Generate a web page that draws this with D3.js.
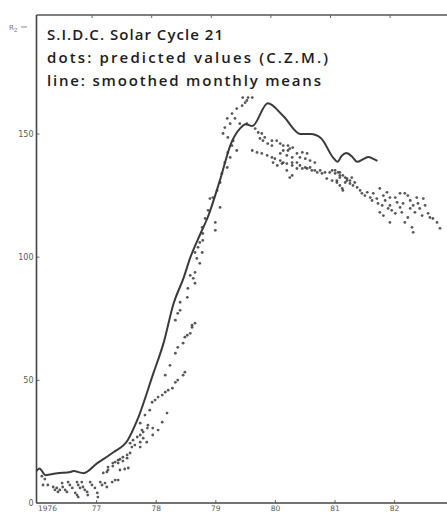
<!DOCTYPE html>
<html>
<head>
<meta charset="utf-8">
<script src="https://cdn.jsdelivr.net/npm/d3@7/dist/d3.min.js"></script>
<style>
  html, body { margin: 0; padding: 0; background: #fff; }
  svg { display: block; }
  .tick text { font-family: "DejaVu Sans", sans-serif; fill: #5a5a5a; }
</style>
</head>
<body>
<svg id="chart" width="447" height="514"></svg>
<script>
// Title block
const titleLines = [
  "S.I.D.C. Solar Cycle 21",
  "dots: predicted values (C.Z.M.)",
  "line: smoothed monthly means"
];

// Axis ticks
const yearTicks = [1976, 1977, 1978, 1979, 1980, 1981, 1982];
const yearLabels = ["1976", "77", "78", "79", "80", "81", "82"];
const valueTicks = [0, 50, 100, 150];

// Smoothed monthly sunspot number [decimal year, Rz]
const smoothed = [
  [1976.00, 13.0], [1976.05, 14.0], [1976.15, 11.3], [1976.35, 12.1], [1976.57, 12.6],
  [1976.62, 13.0], [1976.79, 12.1], [1977.02, 16.2], [1977.29, 20.6], [1977.53, 25.5],
  [1977.69, 33.6], [1977.96, 52.6], [1978.13, 64.8], [1978.30, 81.0], [1978.47, 91.5],
  [1978.58, 99.6], [1978.75, 109.3], [1978.87, 115.8], [1979.09, 132.0], [1979.26, 145.7],
  [1979.42, 152.2], [1979.51, 153.8], [1979.62, 153.0], [1979.88, 162.3], [1980.14, 157.1],
  [1980.43, 149.8], [1980.60, 149.8], [1980.77, 148.2], [1980.98, 140.1], [1981.05, 138.5],
  [1981.12, 140.9], [1981.20, 142.1], [1981.30, 140.5], [1981.38, 138.5], [1981.49, 139.7],
  [1981.57, 140.5], [1981.65, 139.7], [1981.72, 138.9]
];

// Predicted values around the minimum
const dotsMinimum = [
  [1976.09, 10.9], [1976.14, 9.7], [1976.11, 7.3], [1976.19, 7.3], [1976.28, 6.5],
  [1976.31, 5.3], [1976.34, 6.1], [1976.36, 4.5], [1976.39, 5.3], [1976.43, 8.1],
  [1976.44, 6.5], [1976.48, 5.3], [1976.51, 4.5], [1976.53, 8.5], [1976.56, 7.3],
  [1976.60, 6.1], [1976.65, 4.1], [1976.68, 8.5], [1976.70, 7.3], [1976.73, 6.1],
  [1976.68, 3.2], [1976.70, 2.4], [1976.76, 8.5], [1976.78, 6.5], [1976.81, 5.3],
  [1976.85, 4.5], [1976.86, 3.2], [1976.90, 8.5], [1976.93, 7.3], [1976.98, 6.1],
  [1977.02, 4.1], [1977.03, 2.4], [1977.07, 8.5], [1977.10, 7.3], [1977.15, 8.1],
  [1977.18, 6.5], [1977.27, 8.5], [1977.32, 9.3], [1977.37, 9.3],
  [1977.12, 12.2], [1977.18, 12.6], [1977.20, 14.6], [1977.20, 13.4], [1977.28, 16.2],
  [1977.28, 15.0], [1977.32, 16.6], [1977.37, 17.4], [1977.37, 16.2], [1977.40, 17.8],
  [1977.45, 18.6], [1977.45, 17.0], [1977.52, 19.5], [1977.52, 18.2], [1977.57, 20.3],
  [1977.40, 13.4], [1977.48, 13.8], [1977.54, 14.2]
];

// Predicted values on the rising branch
const dotsRise = [
  [1977.60, 22.7], [1977.57, 24.3], [1977.62, 25.5], [1977.65, 23.5], [1977.69, 26.8],
  [1977.74, 27.6], [1977.74, 24.7], [1977.79, 28.8], [1977.79, 26.3], [1977.86, 30.4],
  [1977.87, 31.6], [1977.74, 22.7], [1977.85, 24.7], [1977.95, 27.6], [1978.04, 29.6],
  [1978.11, 32.8], [1978.19, 36.5], [1977.77, 29.6], [1977.95, 30.4],
  [1977.74, 32.4], [1977.82, 35.7], [1977.90, 37.7], [1977.94, 40.9], [1977.99, 41.8],
  [1978.04, 43.0], [1978.11, 43.8], [1978.16, 45.0], [1978.21, 45.8], [1978.28, 46.6],
  [1978.33, 49.0], [1978.37, 49.9], [1978.46, 51.9], [1978.49, 53.1], [1978.16, 51.9],
  [1978.24, 55.9], [1978.33, 60.8], [1978.37, 63.2], [1978.46, 64.9], [1978.53, 68.1],
  [1978.58, 68.9], [1978.61, 72.2], [1978.66, 73.0], [1978.33, 74.2], [1978.37, 77.0],
  [1978.61, 71.3], [1978.49, 67.3], [1978.41, 81.5], [1978.41, 78.2],
  [1978.53, 83.5], [1978.54, 87.1], [1978.66, 89.2], [1978.63, 91.2], [1978.58, 92.4],
  [1978.66, 93.6], [1978.74, 97.3], [1978.69, 99.3], [1978.71, 103.8], [1978.66, 101.7],
  [1978.78, 101.7], [1978.79, 106.6], [1978.74, 105.8], [1978.79, 109.4], [1978.78, 111.9],
  [1978.83, 115.5], [1978.88, 118.8], [1979.00, 113.9], [1979.00, 110.7], [1979.08, 120.0],
  [1978.91, 123.6], [1978.96, 124.0], [1979.03, 126.9], [1979.08, 130.1], [1979.11, 133.8],
  [1979.20, 136.2], [1979.16, 138.2], [1979.25, 140.3], [1979.21, 142.3], [1979.36, 143.1],
  [1979.28, 145.1], [1979.30, 147.1], [1979.21, 148.4], [1979.13, 150.0], [1979.16, 152.4],
  [1979.25, 154.0], [1979.20, 156.1], [1979.33, 156.1], [1979.28, 158.1], [1979.36, 160.1],
  [1979.45, 161.3], [1979.50, 162.5], [1979.55, 164.6], [1979.62, 164.6], [1979.46, 164.6],
  [1979.53, 163.4], [1979.41, 154.0], [1979.53, 154.0]
];

// Predicted values on the declining branch
const dotsDecline = [
  [1979.67, 152.0], [1979.72, 150.4], [1979.78, 150.0], [1979.75, 148.0], [1979.80, 147.1],
  [1979.83, 148.4], [1979.88, 145.9], [1979.95, 147.1], [1979.95, 145.1], [1980.03, 147.1],
  [1980.09, 145.9], [1980.14, 145.1], [1980.22, 145.1], [1980.25, 143.9], [1980.30, 144.3],
  [1980.22, 143.1], [1980.14, 143.1], [1980.09, 141.9], [1980.20, 141.1], [1980.29, 140.3],
  [1980.37, 141.9], [1980.46, 142.3], [1980.54, 141.9], [1980.42, 140.3], [1980.51, 139.8],
  [1980.59, 139.0], [1980.67, 138.2], [1980.37, 138.2], [1980.29, 138.2], [1980.42, 137.0],
  [1980.51, 136.2], [1980.59, 136.2], [1980.67, 135.0], [1980.76, 135.0], [1980.84, 134.2],
  [1980.92, 134.2], [1981.01, 135.0], [1981.09, 134.2],
  [1979.62, 143.1], [1979.70, 142.3], [1979.78, 141.9], [1979.87, 141.1], [1979.95, 140.3],
  [1980.00, 139.8], [1980.09, 139.0], [1980.14, 138.2], [1979.97, 138.2], [1980.04, 137.0],
  [1980.12, 137.8], [1980.20, 137.8], [1980.29, 137.0], [1980.20, 135.0], [1980.29, 133.0],
  [1980.37, 135.8], [1980.46, 135.8], [1980.54, 135.8], [1980.62, 135.0], [1980.71, 134.2],
  [1980.79, 133.8], [1980.87, 131.7], [1980.96, 130.9], [1981.04, 130.1], [1981.09, 128.9],
  [1981.14, 126.9], [1981.09, 133.0], [1981.18, 132.1], [1981.21, 130.9], [1981.13, 127.7],
  [1980.25, 132.1],
  [1980.96, 135.0], [1981.01, 133.8], [1981.06, 134.2], [1981.09, 132.1], [1981.14, 133.0],
  [1981.21, 131.7], [1981.18, 130.1], [1981.26, 130.9], [1981.26, 129.7], [1981.29, 132.1],
  [1981.31, 128.9], [1981.34, 130.1], [1981.38, 128.1], [1981.04, 130.9], [1981.43, 126.9],
  [1981.46, 125.7], [1981.51, 124.8], [1981.55, 126.1], [1981.60, 124.0], [1981.63, 122.8],
  [1981.65, 125.7], [1981.71, 123.6], [1981.76, 127.7], [1981.73, 121.6], [1981.80, 120.8],
  [1981.82, 124.8], [1981.85, 122.8], [1981.88, 126.1], [1981.93, 120.8], [1981.93, 124.0],
  [1981.96, 118.8], [1981.90, 119.6], [1982.02, 124.0], [1982.05, 122.0], [1982.02, 117.6],
  [1982.10, 125.7], [1982.10, 120.0], [1982.13, 118.0], [1982.15, 121.6], [1982.18, 125.7],
  [1982.23, 124.8], [1982.27, 122.8], [1982.23, 115.9], [1982.27, 119.6], [1982.32, 120.8],
  [1982.35, 118.0], [1982.38, 124.0], [1982.40, 121.6], [1982.43, 119.6], [1982.47, 116.7],
  [1982.49, 123.6], [1982.52, 120.8], [1982.57, 117.6], [1982.60, 115.9], [1982.65, 115.5],
  [1982.72, 113.9], [1982.77, 111.5], [1982.30, 111.9], [1982.32, 109.9], [1982.18, 113.9],
  [1981.93, 113.9], [1981.82, 116.7], [1981.76, 118.0]
];

const svg = d3.select("#chart");
const W = 447;

const x = d3.scaleLinear().domain([1976, 1983]).range([36.5, 36.5 + 7 * 59.6]);
const y = d3.scaleLinear().domain([0, 150]).range([503, 133.5]);
const axisLeftX = x(1976), frameTopY = 15;

// Frame: top border with year ticks
svg.append("line")
  .attr("x1", axisLeftX).attr("x2", W).attr("y1", frameTopY).attr("y2", frameTopY)
  .attr("stroke", "#555").attr("stroke-width", 1.4);
svg.append("g").selectAll("line").data(yearTicks.slice(1)).join("line")
  .attr("x1", d => x(d) - 4).attr("x2", d => x(d) - 4)
  .attr("y1", frameTopY).attr("y2", frameTopY + 3)
  .attr("stroke", "#666").attr("stroke-width", 1);

// Bottom axis
const xAxis = d3.axisBottom(x)
  .tickValues(yearTicks)
  .tickFormat((d, i) => yearLabels[i])
  .tickSizeInner(-3).tickSizeOuter(0).tickPadding(3);
const gx = svg.append("g").attr("transform", `translate(0,${y(0)})`).call(xAxis);
gx.select(".domain").remove();
gx.selectAll(".tick line").attr("stroke", "#666");
gx.selectAll(".tick text").attr("font-size", 7.5);
gx.selectAll(".tick").filter(d => d === 1976).select("text")
  .attr("text-anchor", "start").attr("x", 1);
gx.selectAll(".tick").filter(d => d === 1976).select("line").remove();
svg.append("line")
  .attr("x1", axisLeftX).attr("x2", W).attr("y1", y(0)).attr("y2", y(0))
  .attr("stroke", "#444").attr("stroke-width", 1.6);

// Left axis
const yAxis = d3.axisLeft(y)
  .tickValues(valueTicks)
  .tickSizeInner(-3).tickSizeOuter(0).tickPadding(3);
const gy = svg.append("g").attr("transform", `translate(${axisLeftX},0)`).call(yAxis);
gy.select(".domain").remove();
gy.selectAll(".tick line").attr("stroke", "#666");
gy.selectAll(".tick text").attr("font-size", 8);
svg.append("line")
  .attr("x1", axisLeftX).attr("x2", axisLeftX).attr("y1", frameTopY).attr("y2", y(0))
  .attr("stroke", "#444").attr("stroke-width", 1.6);

// Axis name
const rz = svg.append("text")
  .attr("x", 9).attr("y", 30)
  .attr("font-family", "DejaVu Sans, sans-serif").attr("font-size", 7).attr("fill", "#777");
rz.append("tspan").text("R");
rz.append("tspan").attr("font-size", 5).attr("dy", 1.5).text("Z");
svg.append("line").attr("x1", 21).attr("x2", 27).attr("y1", 27).attr("y2", 27)
  .attr("stroke", "#888").attr("stroke-width", 1);

// Predicted values
const allDots = dotsMinimum.concat(dotsRise, dotsDecline);
svg.append("g").selectAll("circle").data(allDots).join("circle")
  .attr("cx", d => x(d[0])).attr("cy", d => y(d[1]))
  .attr("r", 1.4)
  .attr("fill", "#2e2e2e").attr("fill-opacity", 0.8);

// Smoothed monthly means
const smoothLine = d3.line()
  .x(d => x(d[0])).y(d => y(d[1]))
  .curve(d3.curveMonotoneX);
svg.append("path").datum(smoothed)
  .attr("d", smoothLine)
  .attr("fill", "none").attr("stroke", "#3a3a3a")
  .attr("stroke-width", 2).attr("stroke-linejoin", "round");

// Title block
const titleWidths = [176, 281, 274];
svg.append("g").selectAll("text").data(titleLines).join("text")
  .attr("x", 47).attr("y", (d, i) => 40 + i * 23)
  .attr("font-family", "'Open Sans', 'DejaVu Sans', sans-serif")
  .attr("font-size", 15).attr("font-weight", 600).attr("fill", "#1c1c1c")
  .attr("textLength", (d, i) => titleWidths[i])
  .attr("lengthAdjust", "spacing")
  .text(d => d);
</script>
</body>
</html>
